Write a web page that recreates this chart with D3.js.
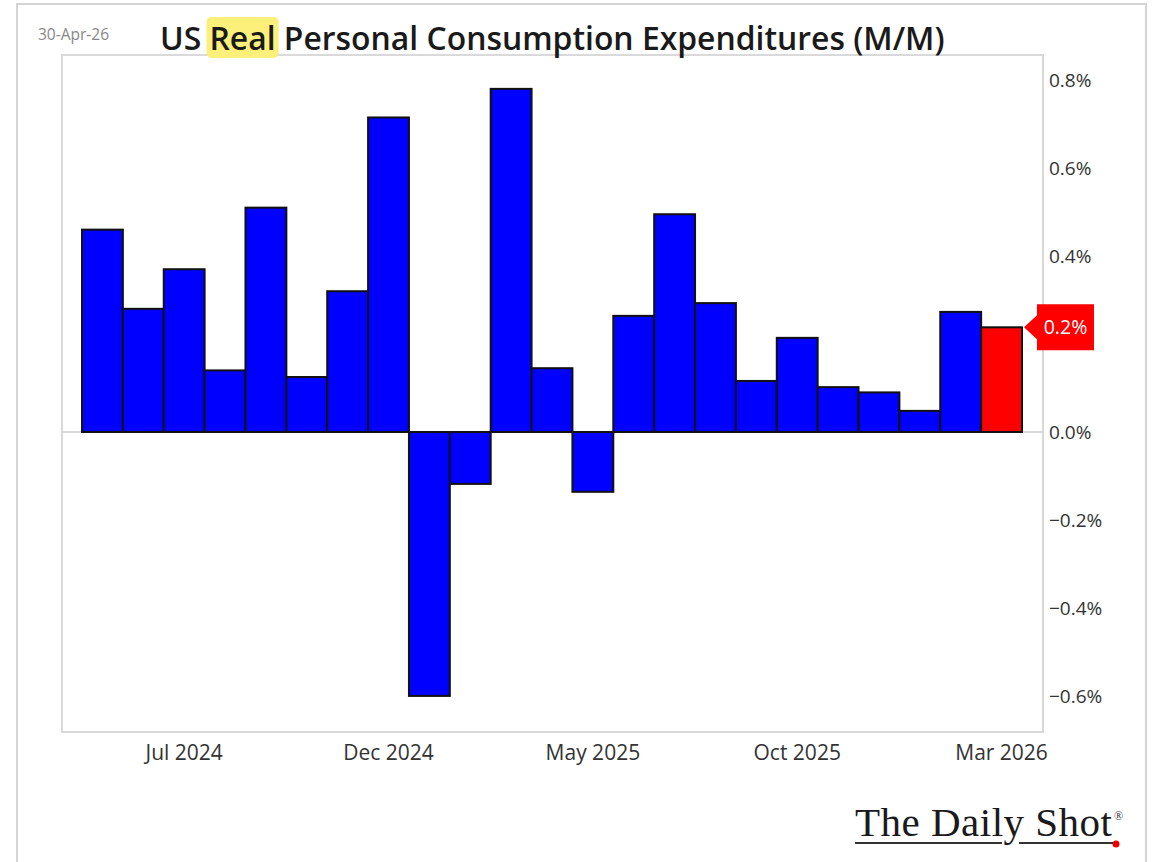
<!DOCTYPE html>
<html><head><meta charset="utf-8">
<script src="https://cdn.jsdelivr.net/npm/d3@7"></script>
<style>body{margin:0;background:#fff}svg{display:block}</style>
</head><body>
<script>
const months = ["May 2024","Jun 2024","Jul 2024","Aug 2024","Sep 2024","Oct 2024","Nov 2024","Dec 2024",
  "Jan 2025","Feb 2025","Mar 2025","Apr 2025","May 2025","Jun 2025","Jul 2025","Aug 2025","Sep 2025","Oct 2025",
  "Nov 2025","Dec 2025","Jan 2026","Feb 2026","Mar 2026"];
const values = [0.46,0.28,0.37,0.14,0.51,0.125,0.32,0.715,-0.60,-0.118,0.78,0.145,-0.136,0.264,0.495,0.293,0.116,0.214,0.102,0.09,0.048,0.273,0.238];
const xTickLabels = ["Jul 2024","Dec 2024","May 2025","Oct 2025","Mar 2026"];
const yTicks = [-0.6,-0.4,-0.2,0.0,0.4,0.6,0.8];
const lastLabel = "0.2%";

const W=1155,H=862;
const svg=d3.select("body").append("svg").attr("width",W).attr("height",H);
const L=62,R=1043,T=55,B=732;
const FONT="'Open Sans', 'Noto Sans', sans-serif";

// outer frame
svg.append("rect").attr("x",17).attr("y",4).attr("width",1129).attr("height",870)
  .attr("fill","none").attr("stroke","#d4d4d4").attr("stroke-width",2);

const x=d3.scaleBand().domain(months).range([82,1022]).padding(0);
const y=d3.scaleLinear().domain([-0.682,0.857]).range([B,T]);

// plot border
svg.append("rect").attr("x",L).attr("y",T).attr("width",R-L).attr("height",B-T)
  .attr("fill","none").attr("stroke","#d9d9d9").attr("stroke-width",2);

// zero line
svg.append("line").attr("x1",L).attr("x2",R).attr("y1",y(0)).attr("y2",y(0))
  .attr("stroke","#cfcfcf").attr("stroke-width",1.5);

svg.append("g").selectAll("rect").data(values).join("rect")
  .attr("x",(d,i)=>x(months[i]))
  .attr("width",x.bandwidth())
  .attr("y",d=>y(Math.max(0,d)))
  .attr("height",d=>Math.abs(y(d)-y(0)))
  .attr("fill",(d,i)=>i===values.length-1?"#ff0000":"#0000ff")
  .attr("stroke","#111").attr("stroke-width",2);

// right axis
const yAxis=d3.axisRight(y).tickValues(yTicks).tickSize(0).tickPadding(6)
  .tickFormat(d=>(d<0?"\u2212":"")+Math.abs(d).toFixed(1)+"%");
const ga=svg.append("g").attr("transform",`translate(${R},0)`).call(yAxis);
ga.select(".domain").remove();
ga.selectAll("text").attr("font-family",FONT).attr("font-size",19).attr("font-weight",500).attr("fill","#333");

// bottom axis
const xAxis=d3.axisBottom(x).tickValues(xTickLabels).tickSize(0).tickPadding(13);
const gx=svg.append("g").attr("transform",`translate(0,${B})`).call(xAxis);
gx.select(".domain").remove();
gx.selectAll("text").attr("font-family",FONT).attr("font-size",21).attr("font-weight",500).attr("fill","#333");

// last value label
const lv=values[values.length-1], ly=y(lv);
const bx=1037, bw=57, bh=46;
svg.append("path")
  .attr("d",`M${x(months[months.length-1])+x.bandwidth()+2},${ly} L${bx},${ly-12} L${bx},${ly-bh/2} L${bx+bw},${ly-bh/2} L${bx+bw},${ly+bh/2} L${bx},${ly+bh/2} L${bx},${ly+12} Z`)
  .attr("fill","#ff0000");
svg.append("text").attr("x",bx+bw/2).attr("y",ly+7).attr("text-anchor","middle")
  .attr("font-family",FONT).attr("font-size",19.5).attr("fill","#fff").text(lastLabel);

// title
svg.append("text").attr("x",38).attr("y",40).attr("font-family",FONT)
  .attr("font-size",15.5).attr("fill","#888").text("30-Apr-26");
const hlRect=svg.append("rect").attr("y",17).attr("height",41).attr("rx",5).attr("fill","#fdf07a");
const title=svg.append("text").attr("x",160).attr("y",50)
  .attr("font-family",FONT).attr("font-weight",600).attr("font-size",29).attr("fill","#1a1a1a");
title.append("tspan").text("US ");
title.append("tspan").text("Real");
title.append("tspan").text(" Personal Consumption Expenditures (M/M)");
const tn=title.node();
const tw=tn.getComputedTextLength();
title.attr("font-size",29*785/tw);
const s2=tn.getStartPositionOfChar(3).x, e2=tn.getEndPositionOfChar(6).x;
hlRect.attr("x",s2-3).attr("width",e2-s2+6);

// logo
const lg=svg.append("g");
const lt=lg.append("text").attr("x",855).attr("y",836).attr("font-family","'Liberation Serif', 'DejaVu Serif', serif")
  .attr("font-size",41).attr("fill","#1a1a1a").text("The Daily Shot");
const lw=lt.node().getComputedTextLength();
lt.attr("textLength",257).attr("lengthAdjust","spacing");
lg.append("text").attr("x",1114).attr("y",820).attr("font-family","'Liberation Serif', serif")
  .attr("font-size",12).attr("fill","#333").text("®");
lg.append("line").attr("x1",855).attr("x2",1002).attr("y1",843).attr("y2",843).attr("stroke","#333").attr("stroke-width",1.8);
lg.append("line").attr("x1",1019).attr("x2",1115).attr("y1",843).attr("y2",843).attr("stroke","#333").attr("stroke-width",1.8);
lg.append("circle").attr("cx",1116).attr("cy",844).attr("r",3.5).attr("fill","#e00");
</script>
</body></html>
